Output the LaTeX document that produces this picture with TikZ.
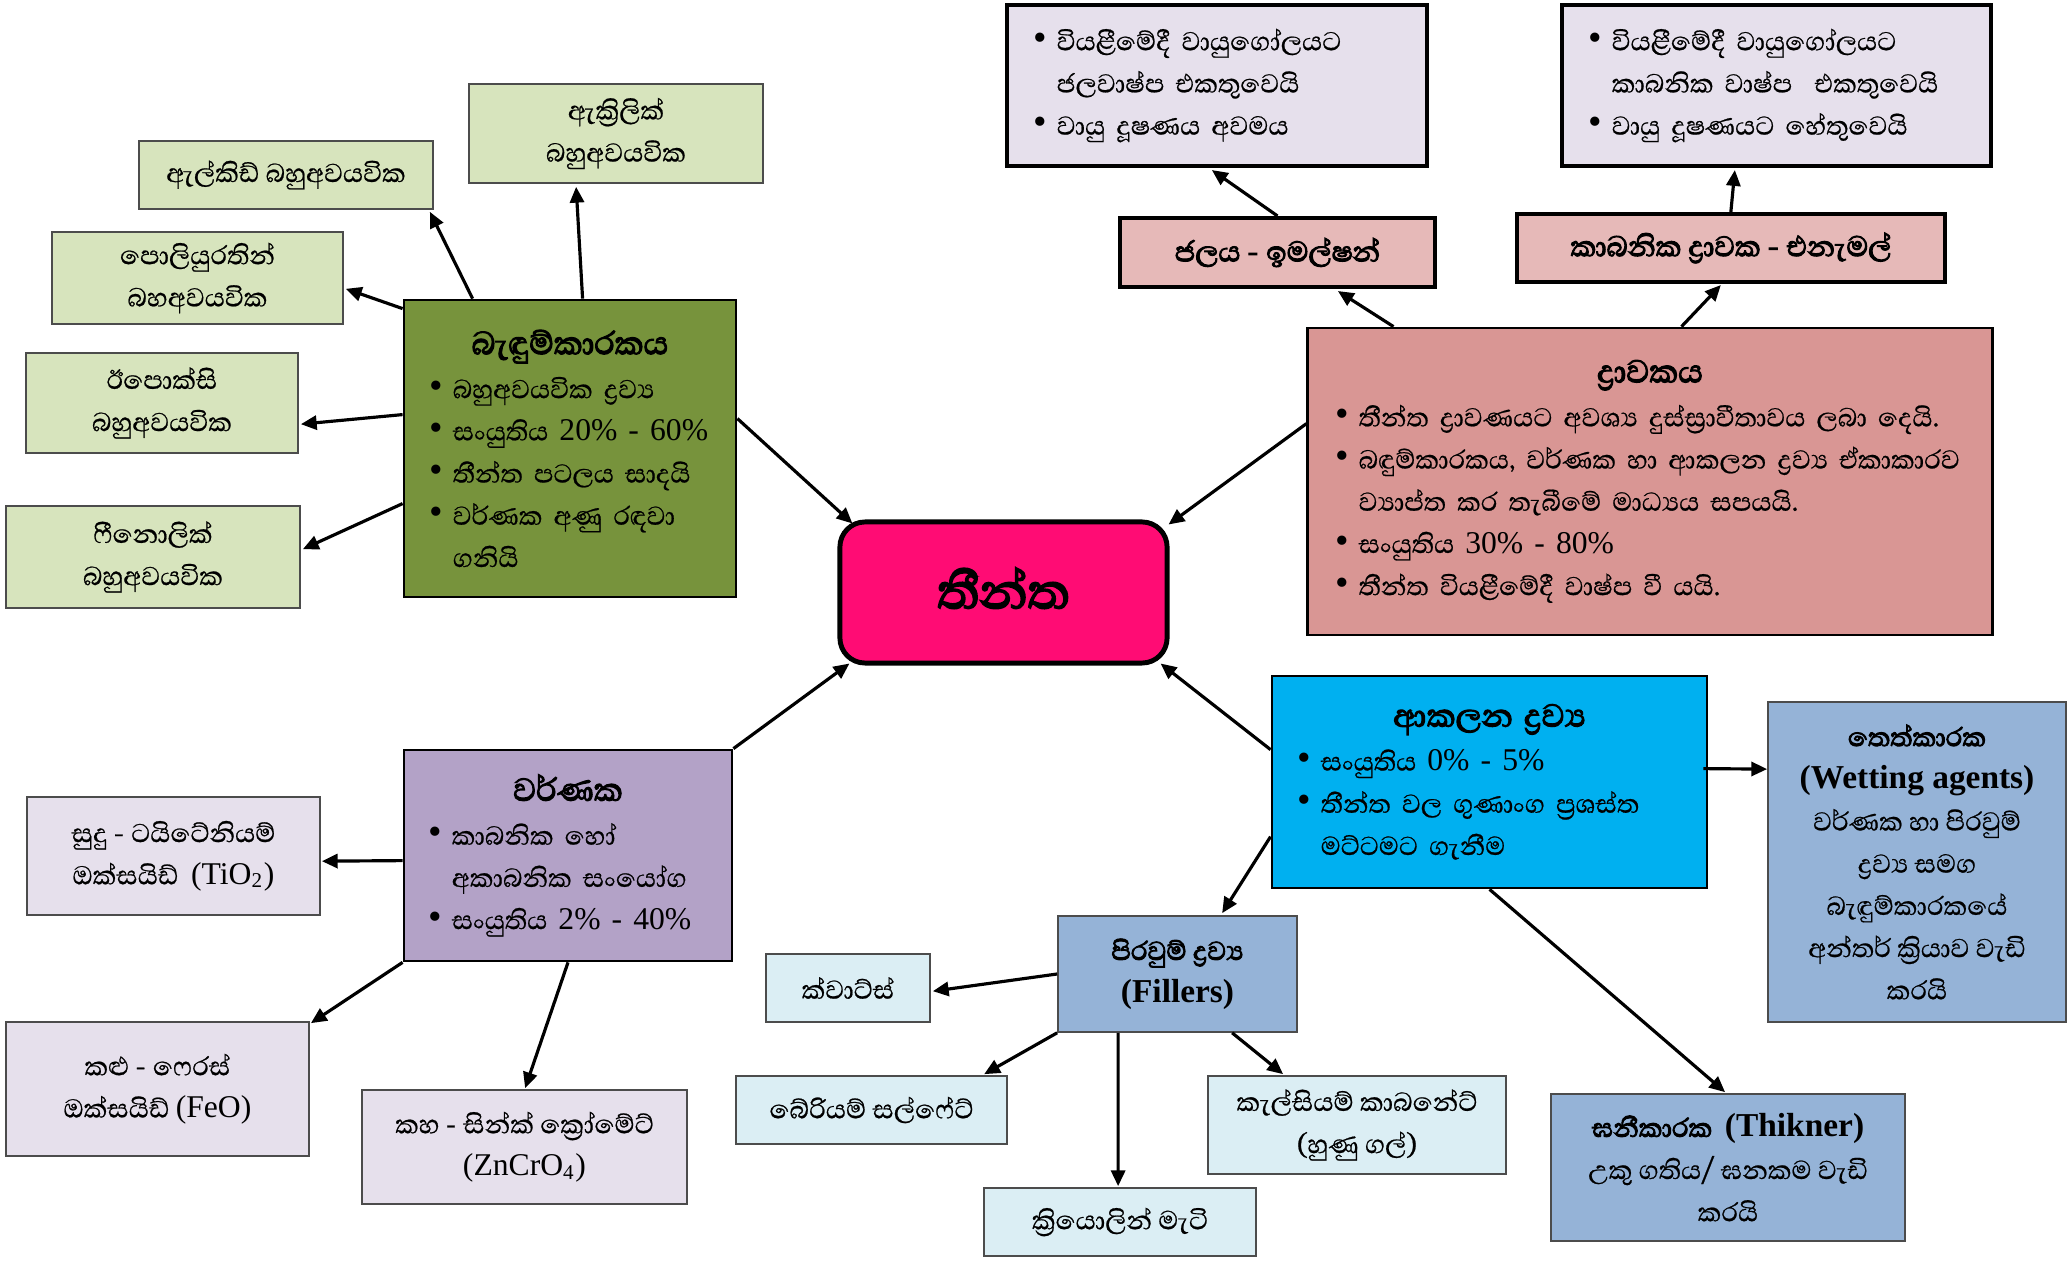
\documentclass[tikz,border=0pt]{standalone}
\usepackage{fontspec}
\setmainfont{Liberation Serif}
\newfontfamily\sifont[Script=Sinhala, Scale=1.05, AutoFakeBold=3, UprightFeatures={FakeBold=0.6}]{Abhaya Libre}
\usetikzlibrary{arrows.meta,calc}
\definecolor{cCenter}{RGB}{255,12,116}
\definecolor{cBinder}{RGB}{119,147,60}
\definecolor{cLGreen}{RGB}{215,228,189}
\definecolor{cLav}{RGB}{230,224,236}
\definecolor{cPink}{RGB}{230,185,184}
\definecolor{cSolv}{RGB}{217,150,148}
\definecolor{cPurp}{RGB}{179,162,199}
\definecolor{cCyan}{RGB}{0,176,240}
\definecolor{cSteel}{RGB}{149,179,215}
\definecolor{cPale}{RGB}{219,238,244}
\newcommand\lt[1]{{\rmfamily #1}}
\def\zj{^^^^200d}
\newcommand\nl{\hfil\break}
\newcommand\ttl[1]{{\centering\bfseries\fontsize{11}{12}\selectfont #1\par}\vspace{0.5pt}}
\newcommand\itm[1]{\noindent\hangindent=6.5pt\hangafter=1\hbox to 6.5pt{\lt{\fontsize{11}{12}\selectfont •}\hfil}#1\par}
\tikzset{
  every node/.style={font=\sifont\fontsize{9}{12}\selectfont},
  box/.style={rectangle, inner sep=0pt, align=center},
  thinbox/.style={box, draw=black!70, line width=0.45pt},
  thickbox/.style={box, draw=black, line width=0.75pt},
  heavybox/.style={box, draw=black, line width=1.15pt},
  bullbox/.style={thickbox, align=left},
  pinkbox/.style={heavybox, fill=cPink, font=\sifont\bfseries\fontsize{9.8}{12}\selectfont},
  arr/.style={-{Triangle[length=4.5pt,width=4pt]}, line width=0.9pt},
}
\begin{document}
\begin{tikzpicture}[x=0.01cm,y=-0.01cm]
\useasboundingbox[fill=white] (0,0) rectangle (2072,1261);

% ---------- binder cluster ----------
\node[bullbox, fill=cBinder, minimum width=3.32cm, minimum height=2.97cm, text width=2.80cm, inner xsep=0.26cm] (binder) at (570,448.5)
 {\ttl{බැඳුම්කාරකය}%
  \itm{බහුඅවයවික ද්\zj රව්\zj ය}%
  \itm{සංයුතිය \lt{20\% - 60\%}}%
  \itm{තීන්ත පටලය සාදයි}%
  \itm{වර්ණක අණු රඳවා\nl ගනියි}};
\node[thinbox, fill=cLGreen, minimum width=2.94cm, minimum height=0.99cm] (acry) at (616,133.5) {ඇක්\zj රිලික්\\බහුඅවයවික};
\node[thinbox, fill=cLGreen, minimum width=2.94cm, minimum height=0.68cm] (alkyd) at (286,175) {ඇල්කිඩ් බහුඅවයවික};
\node[thinbox, fill=cLGreen, minimum width=2.91cm, minimum height=0.92cm] (poly) at (197.5,278) {පොලියුරතින්\\බහඅවයවික};
\node[thinbox, fill=cLGreen, minimum width=2.72cm, minimum height=1.00cm] (epoxy) at (162,403) {ඊපොක්සි\\බහුඅවයවික};
\node[thinbox, fill=cLGreen, minimum width=2.94cm, minimum height=1.02cm] (phen) at (153,557) {ෆීනොලික්\\බහුඅවයවික};

% ---------- centre ----------
\node[box, draw=black, line width=1.4pt, rounded corners=0.25cm, fill=cCenter, minimum width=3.27cm, minimum height=1.41cm, font=\sifont\bfseries\fontsize{17}{20}\selectfont] (paint) at (1003.5,592.5) {\raisebox{2.5pt}{තීන්ත}};

% ---------- solvent cluster ----------
\node[heavybox, fill=cLav, align=left, minimum width=4.20cm, minimum height=1.61cm, text width=3.66cm, inner xsep=0.27cm] (wat1) at (1217,85.5)
 {\itm{වියළීමේදී වායුගෝලයට\nl ජලවාෂ්ප එකතුවෙයි}%
  \itm{වායු දූෂණය අවමය}};
\node[heavybox, fill=cLav, align=left, minimum width=4.29cm, minimum height=1.61cm, text width=3.75cm, inner xsep=0.27cm] (org1) at (1776.5,85.5)
 {\itm{වියළීමේදී වායුගෝලයට\nl කාබනික වාෂ්ප\ \ එකතුවෙයි}%
  \itm{වායු දූෂණයට හේතුවෙයි}};
\node[pinkbox, minimum width=3.15cm, minimum height=0.69cm] (water) at (1277.5,252.5) {ජලය - ඉමල්ෂන්};
\node[pinkbox, minimum width=4.28cm, minimum height=0.68cm] (organic) at (1731,248) {කාබනික ද්\zj රාවක - එනැමල්};
\node[bullbox, fill=cSolv, minimum width=6.84cm, minimum height=3.07cm, text width=6.28cm, inner xsep=0.28cm] (solv) at (1650,481.5)
 {\ttl{ද්\zj රාවකය}%
  \itm{තීන්ත ද්\zj රාවණයට අවශ්\zj ය දුස්ස්\zj රාවීතාවය ලබා දෙයි.}%
  \itm{බඳුම්කාරකය, වර්ණක හා ආකලන ද්\zj රව්\zj ය ඒකාකාරව\nl ව්\zj යාප්ත කර තැබීමේ මාධ්\zj යය සපයයි.}%
  \itm{සංයුතිය \lt{30\% - 80\%}}%
  \itm{තීන්ත වියළීමේදී වාෂ්ප වී යයි.}};

% ---------- pigment cluster ----------
\node[bullbox, fill=cPurp, minimum width=3.28cm, minimum height=2.11cm, text width=2.78cm, inner xsep=0.25cm] (pig) at (568,855.5)
 {\ttl{වර්ණක}%
  \itm{කාබනික හෝ\nl අකාබනික සංයෝග}%
  \itm{සංයුතිය \lt{2\% - 40\%}}};
\node[thinbox, fill=cLav, minimum width=2.93cm, minimum height=1.18cm] (white) at (173.5,856) {සුදු - ටයිටේනියම්\\ඔක්සයිඩ්\ \ \lt{(TiO\textsubscript{2})}};
\node[thinbox, fill=cLav, minimum width=3.03cm, minimum height=1.34cm] (black) at (157.5,1089) {කළු - ෆෙරස්\\ඔක්සයිඩ් \lt{(FeO)}};
\node[thinbox, fill=cLav, minimum width=3.25cm, minimum height=1.14cm] (yellow) at (524.5,1147) {කහ - සින්ක් ක්\zj රෝමේට්\\\lt{(ZnCrO\textsubscript{4})}};

% ---------- additives cluster ----------
\node[bullbox, fill=cCyan, minimum width=4.35cm, minimum height=2.12cm, text width=3.83cm, inner xsep=0.26cm] (add) at (1489.5,782)
 {\ttl{ආකලන ද්\zj රව්\zj ය}%
  \itm{සංයුතිය \lt{0\% - 5\%}}%
  \itm{තීන්ත වල ගුණාංග ප්\zj රශස්ත\nl මට්ටමට ගැනීම}};
\node[thinbox, fill=cSteel, minimum width=2.98cm, minimum height=3.20cm] (wet) at (1917,862)
 {{\bfseries තෙත්කාරක}\\\lt{\bfseries\fontsize{9.5}{12}\selectfont (Wetting agents)}\\වර්ණක හා පිරවුම්\\ද්\zj රව්\zj ය සමග\\බැඳුම්කාරකයේ\\අන්තර් ක්\zj රියාව වැඩි\\කරයි};
\node[thinbox, fill=cSteel, minimum width=3.54cm, minimum height=1.47cm] (thick) at (1728,1167.5)
 {{\bfseries ඝනීකාරක\ \ \lt{\fontsize{9.5}{12}\selectfont (Thikner)}}\\උකු ගතිය/ ඝනකම වැඩි\\කරයි};
\node[thinbox, fill=cSteel, minimum width=2.39cm, minimum height=1.16cm] (fill) at (1177.5,974)
 {{\bfseries පිරවුම් ද්\zj රව්\zj ය}\\\lt{\bfseries\fontsize{9.5}{12}\selectfont (Fillers)}};
\node[thinbox, fill=cPale, minimum width=1.64cm, minimum height=0.68cm] (quartz) at (848,988) {ක්වාට්ස්};
\node[thinbox, fill=cPale, minimum width=2.71cm, minimum height=0.68cm] (barium) at (871.5,1110) {බේරියම් සල්ෆේට්};
\node[thinbox, fill=cPale, minimum width=2.72cm, minimum height=0.68cm] (kaolin) at (1120,1222) {ක්\zj රියොලින් මැටි};
\node[thinbox, fill=cPale, minimum width=2.98cm, minimum height=0.98cm] (calc) at (1357,1125) {කැල්සියම් කාබනේට්\\(හුණු ගල්)};

% ---------- connectors ----------
\draw[arr] ($(binder.north west)+(70,0)$) -- ($(alkyd.south east)+(-4,2)$);
\draw[arr] ($(binder.north west)+(180,0)$) -- ($(acry.south west)+(108,3)$);
\draw[arr] ($(binder.north west)+(0,10)$) -- ($(poly.south east)+(2,-36)$);
\draw[arr] ($(binder.north west)+(0,116)$) -- ($(epoxy.north east)+(2,72)$);
\draw[arr] ($(binder.north west)+(0,205)$) -- ($(phen.north east)+(2,44)$);
\draw[arr] ($(binder.north east)+(0,120)$) -- ($(paint.north west)+(15,4)$);

\draw[arr] ($(solv.north west)+(87,0)$) -- ($(water.south west)+(220,2)$);
\draw[arr] ($(solv.north west)+(375,0)$) -- ($(organic.south west)+(206,1)$);
\draw[arr] (water.north) -- ($(wat1.south west)+(207,2)$);
\draw[arr] ($(organic.north west)+(216,0)$) -- ($(org1.south west)+(175,2)$);
\draw[arr] ($(solv.north west)+(0,97)$) -- ($(paint.north east)+(-1,5)$);

\draw[arr] (pig.north east) -- ($(paint.south west)+(12,-2)$);
\draw[arr] ($(pig.north west)+(0,112)$) -- ($(white.north east)+(1,65)$);
\draw[arr] (pig.south west) -- ($(black.north east)+(1,2)$);
\draw[arr] (pig.south) -- ($(yellow.north west)+(164,-1)$);

\draw[arr] ($(add.north west)+(0,75)$) -- ($(paint.south east)+(-9,-2)$);
\draw[arr] ($(add.north east)+(-5,94)$) -- ($(wet.north west)+(0,68)$);
\draw[arr] ($(add.south west)+(219,0)$) -- ($(thick.north west)+(175,-1)$);
\draw[arr] ($(add.north west)+(0,162)$) -- ($(fill.north west)+(165,-2)$);
\draw[arr] (fill.west) -- ($(quartz.north east)+(2,38)$);
\draw[arr] (fill.south west) -- ($(barium.north west)+(249,-1)$);
\draw[arr] ($(fill.south west)+(61,0)$) -- ($(kaolin.north west)+(135,-1)$);
\draw[arr] ($(fill.south west)+(175,0)$) -- ($(calc.north west)+(76,-1)$);
\end{tikzpicture}
\end{document}
